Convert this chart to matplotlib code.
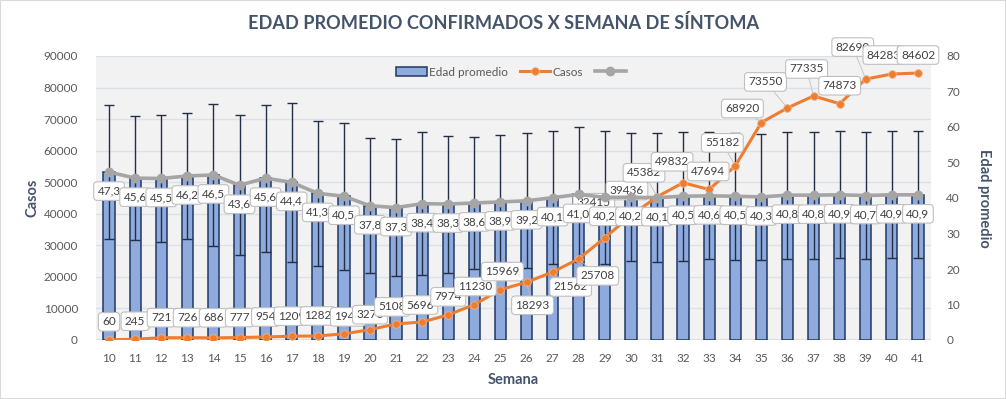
import numpy as np
import matplotlib
matplotlib.use('Agg')
import matplotlib.pyplot as plt
from matplotlib.patches import Rectangle

plt.rcParams['font.family'] = ['Lato', 'DejaVu Sans']

# Data
semanas = list(range(10, 42))
edad_promedio = [47.3, 45.6, 45.5, 46.2, 46.5, 43.6, 45.6, 44.4, 41.3, 40.5, 37.8, 37.3,
                 38.4, 38.3, 38.6, 38.9, 39.2, 40.1, 41.0, 40.2, 40.2, 40.1, 40.5, 40.6,
                 40.5, 40.3, 40.8, 40.8, 40.9, 40.7, 40.9, 40.9]
edad_desv = [18.9, 17.4, 18.0, 17.8, 20.0, 19.7, 20.7, 22.3, 20.4, 20.7, 19.0, 19.3,
             20.2, 19.3, 18.5, 18.8, 19.0, 18.7, 18.9, 18.7, 18.0, 18.1, 18.2, 17.9,
             17.9, 17.8, 17.9, 17.9, 17.9, 17.8, 17.9, 17.9]
casos = [60, 245, 721, 726, 686, 777, 954, 1209, 1282, 1946, 3273, 5108,
         5696, 7974, 11230, 15969, 18293, 21562, 25708, 32415, 39436, 45382, 49832, 47694,
         55182, 68920, 73550, 77335, 74873, 82690, 84283, 84602]

# label placement for the Casos labels (pixels, label centre relative to point)
casos_off = [(0, 18), (0, 18), (0, 20), (0, 20), (0, 20), (0, 20), (0, 20), (0, 20),
             (0, 20), (4, 17), (0, 15), (-4, 17), (-2, 17), (0, 18), (1, 18), (2, 18),
             (6, -23), (18, -15), (19, -17), (-11, 35), (-4, 25), (-13, 24), (-11, 21), (-1, 18),
             (-13, 23), (-19, 14), (-22, 26), (-7, 27), (0, 18), (-13, 32), (-8, 19), (0, 18)]

orange = '#ed7d31'
gray = '#a5a5a5'
bar_fill = '#8faadc'
bar_edge = '#1f3864'
txt = '#595959'
dark = '#44546a'

fig = plt.figure(figsize=(10.06, 3.99), dpi=100)
ax = fig.add_axes([96 / 1006, 1 - 340 / 399, 835 / 1006, 284 / 399])
ax2 = ax.twinx()   # casos
ax3 = ax.twinx()   # edad line + labels, on top

# bars (edad) on the bottom axes
ax.set_facecolor('#f2f2f2')
ax.bar(semanas, edad_promedio, width=0.43, color=bar_fill, edgecolor=bar_edge,
       linewidth=1.1, zorder=2, label='Edad promedio')
ax.errorbar(semanas, edad_promedio, yerr=edad_desv, fmt='none', ecolor='#222f45',
            elinewidth=1.0, capsize=3.5, capthick=1.0, zorder=3)
ax.set_ylim(0, 80)
ax.set_yticks(range(0, 81, 10))
ax.set_xlim(9.5, 41.5)
ax.set_xticks(semanas)
ax.yaxis.tick_right()
ax.yaxis.set_label_position('right')
ax.set_ylabel('Edad promedio', rotation=270, va='center', fontsize=10.5,
              fontweight='bold', color=dark)
ax.yaxis.set_label_coords(1.064, 0.5)
ax.set_xlabel('Semana', fontsize=10.5, fontweight='bold', color=dark, va='center')
ax.xaxis.set_label_coords(0.5, -0.141)

# casos line
ax2.plot(semanas, casos, color=orange, lw=2.2, marker='o', ms=5.5,
         mec='#f4b183', mew=0.6, zorder=4, label='Casos')
ax2.set_ylim(0, 90000)
ax2.set_yticks(range(0, 90001, 10000))
ax2.yaxis.tick_left()
ax2.yaxis.set_label_position('left')
ax2.set_ylabel('Casos', va='center', fontsize=10.5, fontweight='bold', color=dark)
ax2.yaxis.set_label_coords(-0.0766, 0.5)

# gridlines at the casos ticks, behind the bars
for t in ax2.get_yticks()[1:]:
    ax.axhline(t / 90000 * 80, color='#d9e1ea', lw=1.0, zorder=1)
ax.axhline(0, color='#d9d9d9', lw=1.2, zorder=1)

for i, (s, c) in enumerate(zip(semanas, casos)):
    dx, dy = casos_off[i]
    leader = abs(dy) > 22 or abs(dx) > 12
    ax2.annotate(f'{c}', (s, c), xytext=(dx, dy), textcoords='offset pixels',
                 ha='center', va='center', fontsize=8.5, color='#404040', zorder=6,
                 bbox=dict(boxstyle='round,pad=0.32,rounding_size=0.3', fc='white',
                           ec='#bfbfbf', lw=0.8),
                 arrowprops=dict(arrowstyle='-', color='#bfbfbf', lw=0.6,
                                 shrinkA=0, shrinkB=2) if leader else None)

# gray edad line and its labels
ax3.plot(semanas, edad_promedio, color=gray, lw=2.6, marker='o', ms=6, zorder=4)
ax3.set_ylim(0, 80)
ax3.set_yticks([])
for s, e in zip(semanas, edad_promedio):
    ax3.annotate(f'{e:.1f}'.replace('.', ','), (s, e), xytext=(0, -19),
                 textcoords='offset pixels', ha='center', va='center', fontsize=8.5,
                 color='#404040', zorder=6,
                 bbox=dict(boxstyle='round,pad=0.32,rounding_size=0.3', fc='white',
                           ec='#bfbfbf', lw=0.8))

for a in (ax, ax2, ax3):
    for sp in a.spines.values():
        sp.set_visible(False)
    a.tick_params(length=0, labelsize=8.5, labelcolor=txt)
ax.tick_params(axis='y', pad=11)
ax2.tick_params(axis='y', pad=13)
ax.tick_params(axis='x', pad=9)

# legend (the gray series has no name)
h1, l1 = ax.get_legend_handles_labels()
h2, l2 = ax2.get_legend_handles_labels()
h3 = ax3.get_lines()[:1]
leg = ax3.legend(h1 + h2 + h3, l1 + l2 + [' '], loc='upper center',
                 bbox_to_anchor=(0.5, 1.0), ncol=3, frameon=False, fontsize=8.5,
                 handlelength=2.6, columnspacing=1.0, handletextpad=0.2)
for t in leg.get_texts():
    t.set_color(txt)

fig.suptitle('EDAD PROMEDIO CONFIRMADOS X SEMANA DE SÍNTOMA', x=0.501, y=1 - 23 / 399,
             va='center', fontsize=13.1, fontweight='bold', color=dark)
fig.patches.append(Rectangle((0, 0), 1, 1, transform=fig.transFigure, fill=False,
                             ec='#d9d9d9', lw=1.5))

fig.savefig('out.png', dpi=100)
